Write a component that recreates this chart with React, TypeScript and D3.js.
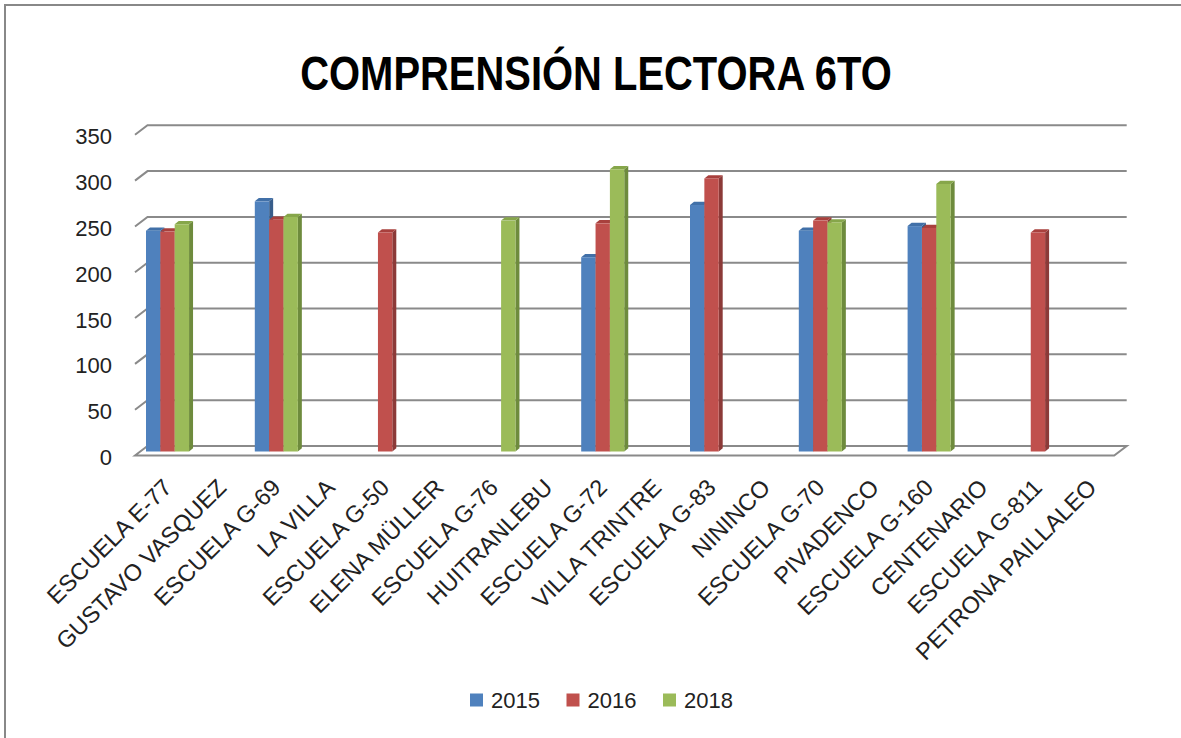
import * as d3 from "d3";
import { useEffect } from "react";

const categories = [
  "ESCUELA E-77", "GUSTAVO VASQUEZ", "ESCUELA G-69", "LA VILLA", "ESCUELA G-50",
  "ELENA MÜLLER", "ESCUELA G-76", "HUITRANLEBU", "ESCUELA G-72", "VILLA TRINTRE",
  "ESCUELA G-83", "NININCO", "ESCUELA G-70", "PIVADENCO", "ESCUELA G-160",
  "CENTENARIO", "ESCUELA G-811", "PETRONA PAILLALEO",
];
const seriesNames = ["2015", "2016", "2018"];
const values2015 = [241, null, 273, null, null, null, null, null, 212, null, 269, null, 241, null, 246, null, null, null];
const values2016 = [240, null, 253, null, 239, null, null, null, 249, null, 298, null, 252, null, 244, null, 239, null];
const values2018 = [248, null, 256, null, null, null, 252, null, 308, null, null, null, 250, null, 292, null, null, null];
const yTicks = [0, 50, 100, 150, 200, 250, 300, 350];

const fronts = ["#4F81BD", "#C0504D", "#9BBB59"];
const sides = ["#385D8A", "#8C3A38", "#6E8B3D"];
const tops = ["#4170A8", "#A8403D", "#86A64A"];

const width = 1181;
const height = 738;
// depth of the floor / wall in screen pixels
const depthX = 12.5;
const depthY = -9.5;
const barDX = 4;
const barDY = -3.3;
const font = "'Liberation Sans', Arial, sans-serif";

export default function App() {
  useEffect(() => {
    document.body.style.margin = "0";
  }, []);

  const x = d3.scaleBand().domain(categories).range([135, 135 + 18 * 54.4]);
  const y = d3.scaleLinear().domain([0, 350]).range([446, 125.3]); // back wall
  const barW = 14.35;
  const barBase = 451.5;
  const k = (y(0) - y(350)) / 350;

  const series = [values2015, values2016, values2018];
  const x0 = x.range()[0];
  const x1 = x.range()[1];

  const bars: any[] = [];
  categories.forEach((c, i) => {
    series.forEach((vals, s) => {
      const v = vals[i];
      if (v == null) return;
      const left = (x(c) as number) + 11 + s * barW;
      const top = barBase - v * k;
      bars.push({ key: c + s, s, left, top });
    });
  });

  return (
    <svg width={width} height={height} style={{ display: "block", background: "#fff" }}>
      <rect x={5} y={5} width={width + 20} height={height + 20} fill="none" stroke="#888" strokeWidth={2} />
      <text
        transform="translate(596,90) scale(0.815,1)"
        textAnchor="middle"
        fontFamily={font}
        fontWeight="bold"
        fontSize={49}
        fill="#000"
      >
        COMPRENSIÓN LECTORA 6TO
      </text>

      {/* walls */}
      <g stroke="#8a8a8a" strokeWidth={2} fill="none">
        {yTicks.filter((t) => t > 0).map((t) => (
          <polyline
            key={t}
            points={`${x0},${y(t) - depthY} ${x0 + depthX},${y(t)} ${x1 + depthX},${y(t)}`}
          />
        ))}
        <polygon
          points={`${x0},${y(0) - depthY} ${x0 + depthX},${y(0)} ${x1 + depthX},${y(0)} ${x1},${y(0) - depthY}`}
        />
      </g>

      <g fontFamily={font} fontSize={22} fill="#222" textAnchor="end">
        {yTicks.map((t) => (
          <text key={t} x={112} y={y(t) + 11.5} dominantBaseline="central">
            {t}
          </text>
        ))}
      </g>

      {/* bars */}
      <g>
        {bars.map((b) => (
          <g key={b.key}>
            <polygon
              points={`${b.left + barW},${b.top} ${b.left + barW + barDX},${b.top + barDY} ${b.left + barW + barDX},${barBase + barDY} ${b.left + barW},${barBase}`}
              fill={sides[b.s]}
            />
            <polygon
              points={`${b.left},${b.top} ${b.left + barDX},${b.top + barDY} ${b.left + barW + barDX},${b.top + barDY} ${b.left + barW},${b.top}`}
              fill={tops[b.s]}
            />
            <rect x={b.left} y={b.top} width={barW} height={barBase - b.top} fill={fronts[b.s]} />
          </g>
        ))}
      </g>

      <g fontFamily={font} fontSize={23.5} fill="#222" textAnchor="end">
        {categories.map((c) => {
          const px = (x(c) as number) + x.bandwidth() / 2 + 11;
          const py = 489;
          return (
            <text key={c} x={px} y={py} transform={`rotate(-45 ${px} ${py})`}>
              {c}
            </text>
          );
        })}
      </g>

      <g fontFamily={font} fontSize={22} fill="#222">
        {seriesNames.map((n, i) => (
          <g key={n} transform={`translate(${470 + i * 96.5},700)`}>
            <rect x={0} y={-6.5} width={13} height={13} fill={fronts[i]} />
            <text x={21} y={0} dominantBaseline="central">
              {n}
            </text>
          </g>
        ))}
      </g>
    </svg>
  );
}
